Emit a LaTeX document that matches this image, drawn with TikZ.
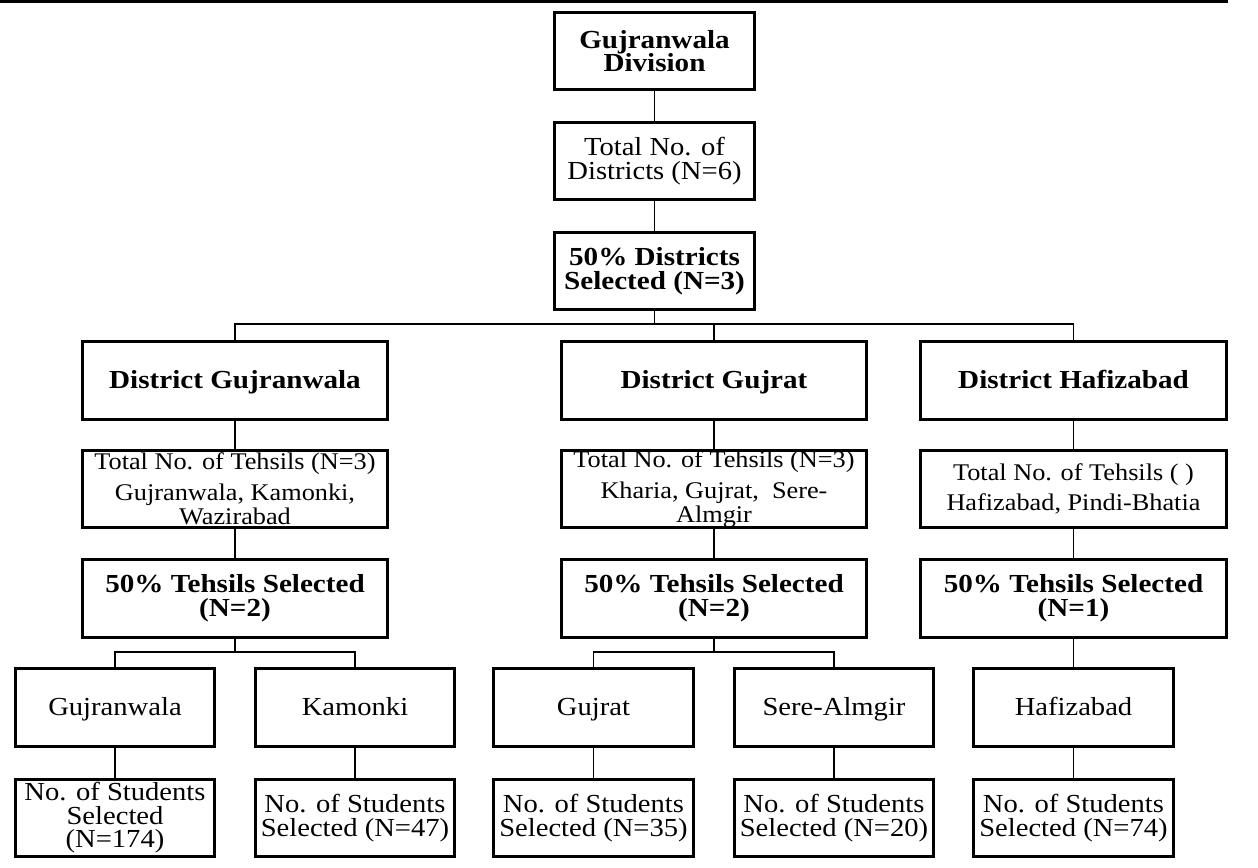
\documentclass[tikz,border=0pt]{standalone}
\usepackage{fontspec}
\setmainfont[FakeStretch=1.1,BoldFeatures={FakeStretch=1.12}]{Liberation Serif}
\usepackage{tikz}
\usetikzlibrary{positioning,calc}
\lineskiplimit=-20pt

\begin{document}
\begin{tikzpicture}[x=0.02cm, y=-0.02cm,
  bx/.style={draw, line width=1.7pt, inner sep=0pt, align=center,
    minimum height=1.55cm, font=\fontsize{14.8}{13.4}\selectfont},
  bold/.style={font=\fontsize{14.8}{13.4}\selectfont\bfseries},
  tehfont/.style={font=\fontsize{13.6}{13.4}\selectfont},
  oneline/.style={text height=10.5pt, text depth=1pt},
  topbox/.style={bx, minimum width=4.02cm},
  distbox/.style={bx, minimum width=6.12cm},
  leafbox/.style={bx, minimum width=4cm},
  link/.style={line width=1.1pt}]

\useasboundingbox (0,0) rectangle (1258,867);
\draw[line width=1.7pt] (0,1.5) -- (1228,1.5);

% Division
\node[topbox, bold] (div) at (654.5,51) {Gujranwala\\Division};
\node[topbox] (tot) at (654.5,161) {Total No. of\\Districts (N=6)};
\node[topbox, bold] (sel) at (654.5,271) {50\% Districts\\Selected (N=3)};

% Districts
\node[distbox, bold, oneline] (dGuj) at (235,380.5) {District Gujranwala};
\node[distbox, bold, oneline] (dGjt) at (714,380.5) {District Gujrat};
\node[distbox, bold, oneline] (dHaf) at (1073.5,380.5) {District Hafizabad};

% Tehsils
\node[distbox, tehfont] (tGuj) at (235,489) {Total No. of Tehsils (N=3)\\[0.15cm]Gujranwala, Kamonki,\\Wazirabad};
\node[distbox, tehfont] (tGjt) at (714,489) {Total No. of Tehsils (N=3)\\[0.15cm]Kharia, Gujrat,\ \ Sere-\\Almgir};
\node[distbox, tehfont] (tHaf) at (1073.5,489) {Total No. of Tehsils ( )\\[0.12cm]Hafizabad, Pindi-Bhatia};

\node[distbox, bold] (sGuj) at (235,598.5) {50\% Tehsils Selected\\(N=2)};
\node[distbox, bold] (sGjt) at (714,598.5) {50\% Tehsils Selected\\(N=2)};
\node[distbox, bold] (sHaf) at (1073.5,598.5) {50\% Tehsils Selected\\(N=1)};

% Selected tehsils
\node[leafbox, oneline] (lGuj) at (115,707.5) {Gujranwala};
\node[leafbox, oneline] (lKam) at (355,707.5) {Kamonki};
\node[leafbox, oneline] (lGjt) at (593.5,707.5) {Gujrat};
\node[leafbox, oneline] (lSer) at (834,707.5) {Sere-Almgir};
\node[leafbox, oneline] (lHaf) at (1073.5,707.5) {Hafizabad};

% Students
\node[leafbox] (nGuj) at (115,818) {No. of Students\\Selected\\(N=174)};
\node[leafbox] (nKam) at (355,818) {No. of Students\\Selected (N=47)};
\node[leafbox] (nGjt) at (593.5,818) {No. of Students\\Selected (N=35)};
\node[leafbox] (nSer) at (834,818) {No. of Students\\Selected (N=20)};
\node[leafbox] (nHaf) at (1073.5,818) {No. of Students\\Selected (N=74)};

% Connectors
\coordinate (bus) at (0,324);
\coordinate (sub) at (0,652);
\draw[link] (div) -- (tot);
\draw[link] (tot) -- (sel);
\draw[link] (sel.south) -- (sel.south |- bus);
\draw[link] (dGuj.north) |- (bus -| dHaf) -- (dHaf.north);
\draw[link] (dGjt.north) -- (dGjt.north |- bus);
\foreach \c in {Guj,Gjt,Haf} {
  \draw[link] (d\c) -- (t\c);
  \draw[link] (t\c) -- (s\c);
}
\draw[link] (sGuj.south) -- (sGuj.south |- sub);
\draw[link] (lGuj.north) |- (sub -| lKam) -- (lKam.north);
\draw[link] (sGjt.south) -- (sGjt.south |- sub);
\draw[link] (lGjt.north) |- (sub -| lSer) -- (lSer.north);
\draw[link] (sHaf) -- (lHaf);
\foreach \c in {Guj,Kam,Gjt,Ser,Haf}
  \draw[link] (l\c) -- (n\c);

\end{tikzpicture}
\end{document}
